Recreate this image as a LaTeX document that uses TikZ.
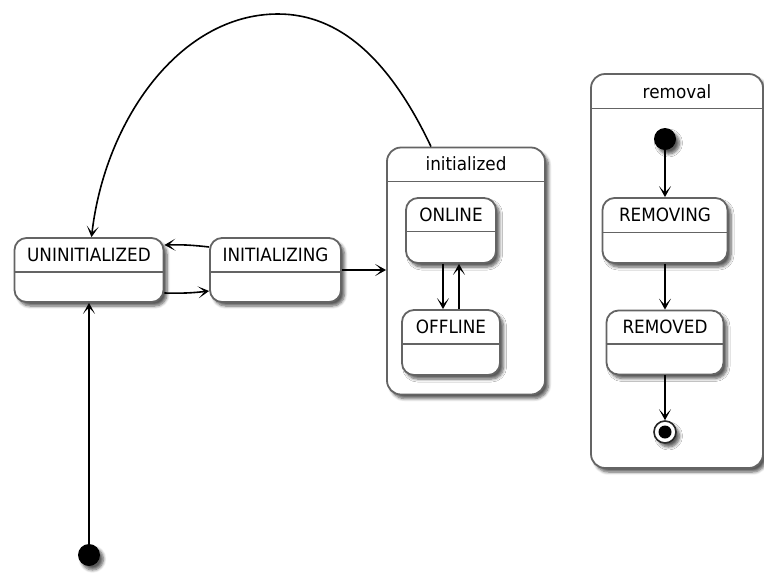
\documentclass[tikz,border=0pt]{standalone}
\usepackage{fontspec}
\setmainfont{DejaVu Sans}[FakeStretch=0.92]
\usetikzlibrary{arrows.meta,shadows.blur}
\definecolor{bordergray}{RGB}{100,100,100}
\begin{document}
\begin{tikzpicture}[x=1pt,y=-1pt,
  sh/.style={blur shadow={shadow xshift=3.5pt,shadow yshift=-4pt,shadow blur steps=6,shadow blur radius=3pt,shadow opacity=65}},
  statebox/.style={draw=bordergray,line width=1.8pt,fill=white,rounded corners=12pt,sh,inner sep=0pt},
  divider/.style={draw=bordergray,line width=1.5pt},
  lbl/.style={anchor=base,inner sep=0pt,font=\fontsize{18.3}{20}\selectfont},
  conn/.style={draw=black,line width=1.6pt,-{Stealth[length=11pt,width=12pt,inset=6.5pt]}},
  startdot/.style={circle,fill=black,minimum size=22pt,inner sep=0pt,sh},
]
\useasboundingbox (0,0) rectangle (764,574);

% composite states
\node[statebox,rounded corners=14pt,minimum width=158pt,minimum height=247pt] (initd) at (466,271) {};
\draw[divider] (initd.west |- 0,181.5) -- (initd.east |- 0,181.5);
\node[lbl] (initdt) at (466,170.5) {initialized};

\node[statebox,rounded corners=14pt,minimum width=172pt,minimum height=394pt] (removal) at (677,271) {};
\draw[divider] (removal.west |- 0,108.5) -- (removal.east |- 0,108.5);
\node[lbl] (removalt) at (677,98) {removal};

% simple states
\node[statebox,minimum width=149pt,minimum height=64pt] (uninit) at (89,270) {};
\draw[divider] (uninit.west |- 0,272) -- (uninit.east |- 0,272);
\node[lbl] (uninitt) at (89,261) {UNINITIALIZED};

\node[statebox,minimum width=131pt,minimum height=64pt] (init) at (275.5,270) {};
\draw[divider] (init.west |- 0,272) -- (init.east |- 0,272);
\node[lbl] (initt) at (275.5,261) {INITIALIZING};

\node[statebox,minimum width=90pt,minimum height=65pt] (online) at (451,230.5) {};
\draw[divider] (online.west |- 0,231.5) -- (online.east |- 0,231.5);
\node[lbl] (onlinet) at (451,221.5) {ONLINE};

\node[statebox,minimum width=98pt,minimum height=65pt] (offline) at (451,342.5) {};
\draw[divider] (offline.west |- 0,344) -- (offline.east |- 0,344);
\node[lbl] (offlinet) at (451,333) {OFFLINE};

\node[statebox,minimum width=125pt,minimum height=65pt] (removing) at (665,230.5) {};
\draw[divider] (removing.west |- 0,232.5) -- (removing.east |- 0,232.5);
\node[lbl] (removingt) at (665,221.5) {REMOVING};

\node[statebox,minimum width=117pt,minimum height=64pt] (removed) at (665,342.5) {};
\draw[divider] (removed.west |- 0,344) -- (removed.east |- 0,344);
\node[lbl] (removedt) at (665,333) {REMOVED};

% pseudo states
\node[startdot] (start1) at (89,555) {};
\node[startdot] (start2) at (665,139) {};
\node[circle,draw=black!85,line width=1.6pt,fill=white,minimum size=22pt,inner sep=0pt,sh] (endo) at (665,432) {};
\node[circle,fill=black,minimum size=13pt,inner sep=0pt] (endi) at (endo) {};

% connectors
\draw[conn] (start1.north) -- (uninit.south);
\draw[conn] ([yshift=-23pt]uninit.east) to[bend right=4] ([yshift=-21pt]init.west);
\draw[conn] ([yshift=23pt]init.west) to[bend right=4] ([yshift=25pt]uninit.east);
\draw[conn] (init.east) -- (initd.west |- init.east);
\draw[conn] ([xshift=-8pt]online.south) -- ([xshift=-8pt]online.south |- offline.north);
\draw[conn] ([xshift=8pt]online.south |- offline.north) -- ([xshift=8pt]online.south);
\coordinate (apex) at (278,14);
\draw[conn] ([xshift=-35pt]initd.north) .. controls (390,60) and (340,14) .. (apex)
  .. controls (180,14) and (105,120) .. ([xshift=2.5pt]uninit.north);
\draw[conn] (start2.south) -- (removing.north);
\draw[conn] (removing.south) -- (removed.north);
\draw[conn] (removed.south) -- (endo.north);
\end{tikzpicture}
\end{document}
